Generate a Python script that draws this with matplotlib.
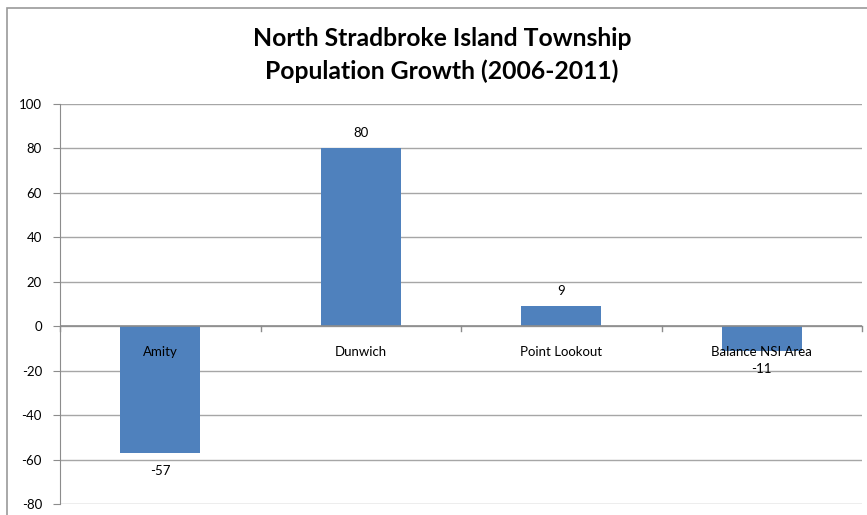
import matplotlib
matplotlib.use("Agg")
import matplotlib.pyplot as plt
from matplotlib.patches import Rectangle

categories = ["Amity", "Dunwich", "Point Lookout", "Balance NSI Area"]
values = [-57, 80, 9, -11]
yticks = [-80, -60, -40, -20, 0, 20, 40, 60, 80, 100]
title = "North Stradbroke Island Township\nPopulation Growth (2006-2011)"

W, H = 867, 515
fig = plt.figure(figsize=(W / 100, H / 100), dpi=100)
plt.rcParams['font.family'] = ['Lato', 'DejaVu Sans']

# outer chart frame
fig.add_artist(Rectangle((7 / W, -0.1), 1.2, (H - 8) / H + 0.1, transform=fig.transFigure,
                         fill=False, edgecolor='#9a9a9a', linewidth=1.2))

ax = fig.add_axes([60 / W, 11 / H, (862 - 60) / W, (504 - 104) / H])
x = list(range(len(categories)))
ax.bar(x, values, width=0.4, color='#4F81BD', zorder=3)
ax.set_xlim(-0.5, len(categories) - 0.5)
ax.set_ylim(-80, 100)
ax.set_yticks(yticks)
ax.set_yticklabels([str(t) for t in yticks], fontsize=9.5)
ax.yaxis.grid(True, color='#a6a6a6', linewidth=1.0, zorder=0)
ax.set_xticks([])
for s in ['top', 'right', 'bottom']:
    ax.spines[s].set_visible(False)
ax.spines['left'].set_color('#8c8c8c')
ax.tick_params(axis='y', length=5, color='#8c8c8c', pad=8)

# zero axis with category ticks
ax.axhline(0, color='#8c8c8c', linewidth=1.2, zorder=4)
for b in [i - 0.5 for i in range(len(categories) + 1)]:
    ax.plot([b, b], [0, -2], color='#8c8c8c', linewidth=1, zorder=4, clip_on=False)

# category labels just below zero line
for i, c in enumerate(categories):
    ax.annotate(c, (i, 0), xytext=(0, -26), textcoords='offset pixels',
                ha='center', va='center', fontsize=9.5, zorder=5)

# data labels
for i, v in enumerate(values):
    off = 15 if v >= 0 else -18
    ax.annotate(str(v), (i, v), xytext=(0, off), textcoords='offset pixels',
                ha='center', va='center', fontsize=9.5, zorder=5)

fig.text(442 / W, 1 - 55 / H, title, ha='center', va='center', fontsize=17.8,
         fontweight='bold', linespacing=1.5)

fig.savefig("out.png", dpi=100)
